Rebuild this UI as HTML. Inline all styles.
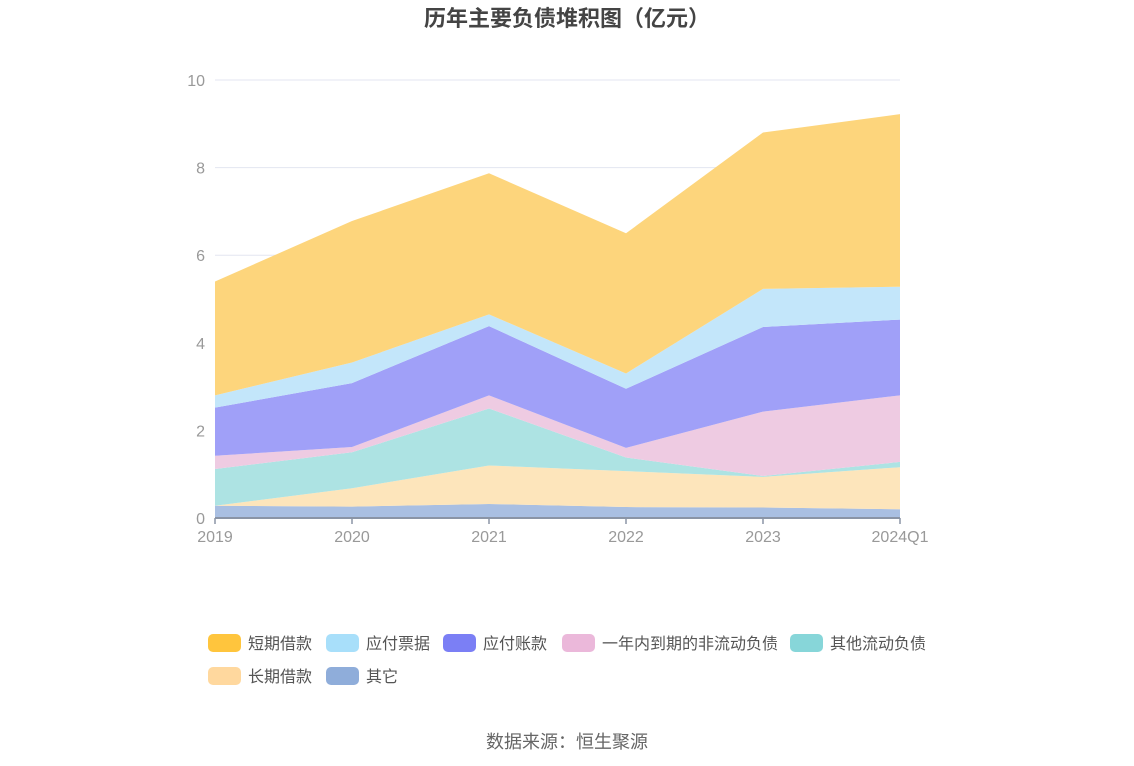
<!DOCTYPE html>
<html><head><meta charset="utf-8"><style>
body{margin:0;background:#fff;font-family:"Liberation Sans","Noto Sans CJK SC",sans-serif;}
#wrap{position:relative;width:1134px;height:766px;overflow:hidden}
</style></head><body><div id="wrap">
<svg id="chart" width="1134" height="766"></svg>
</div>
<script>
const categories=["2019","2020","2021","2022","2023","2024Q1"];
const seriesNames=["其它","长期借款","其他流动负债","一年内到期的非流动负债","应付账款","应付票据","短期借款"];
const sOther=[0.28,0.26,0.32,0.25,0.24,0.2];
const sLongLoan=[0.0,0.42,0.88,0.82,0.7,0.96];
const sOtherCurrent=[0.84,0.82,1.3,0.31,0.02,0.12];
const sDueWithinYear=[0.3,0.12,0.3,0.22,1.47,1.52];
const sPayables=[1.1,1.46,1.58,1.35,1.93,1.73];
const sNotes=[0.28,0.47,0.27,0.35,0.87,0.75];
const sShortLoan=[2.6,3.23,3.22,3.2,3.57,3.94];
const yTicks=[0,2,4,6,8,10];
const seriesData=[sOther,sLongLoan,sOtherCurrent,sDueWithinYear,sPayables,sNotes,sShortLoan];
const fills=["#a9bfe2","#fde5bb","#ade3e3","#eecbe2","#a0a0f8","#c3e6fa","#fdd57c"];
const legendColors={"短期借款":"#ffc53d","应付票据":"#a8dffa","应付账款":"#7b7ff5","一年内到期的非流动负债":"#ebb8da","其他流动负债":"#87d6d9","长期借款":"#ffd89e","其它":"#8fadda"};
const NS="http://www.w3.org/2000/svg";
const svg=document.getElementById('chart');
const x0=215,x1=900,y0=518,y1=80,ymax=10;
const xs=i=>x0+(x1-x0)*i/(categories.length-1);
const ys=v=>y0-(y0-y1)*v/ymax;
function mk(t,a,p){const e=document.createElementNS(NS,t);for(const k in a)e.setAttribute(k,a[k]);(p||svg).appendChild(e);return e;}
// title
let t=mk('text',{x:567,y:26,'text-anchor':'middle','font-size':22,'font-weight':'bold',fill:'#444'});
t.textContent='历年主要负债堆积图（亿元）';
// grid & y labels
yTicks.forEach(v=>{
 const g=mk('line',{x1:x0,x2:x1,y1:ys(v),y2:ys(v),stroke:'#e3e6f0','stroke-width':1});
 
 const l=mk('text',{x:205,y:ys(v)+6,'text-anchor':'end','font-size':16,fill:'#999'});
 l.textContent=v;
});
// stacked areas
let base=categories.map(()=>0);
seriesData.forEach((s,k)=>{
 const top=base.map((b,i)=>b+s[i]);
 let d='M'+categories.map((c,i)=>xs(i)+','+ys(top[i])).join('L');
 for(let i=categories.length-1;i>=0;i--)d+='L'+xs(i)+','+ys(base[i]);
 const p=mk('path',{d:d+'Z',fill:fills[k],stroke:'none'});
 
 base=top;
});
// x axis
const ax=mk('line',{x1:x0,x2:x1,y1:y0,y2:y0,stroke:'#8a94a6','stroke-width':2});

categories.forEach((c,i)=>{
 const tk=mk('line',{x1:xs(i),x2:xs(i),y1:y0,y2:y0+6,stroke:'#8a94a6','stroke-width':1.5});
 
 const l=mk('text',{x:xs(i),y:542,'text-anchor':'middle','font-size':16,fill:'#999'});
 l.textContent=c;
});
// legend
const legend=[["短期借款",208,643],["应付票据",326,643],["应付账款",443,643],["一年内到期的非流动负债",562,643],["其他流动负债",790,643],["长期借款",208,676],["其它",326,676]];
legend.forEach(([n,x,y])=>{
 const g=mk('g',{});
 
 mk('rect',{x:x,y:y-9,width:33,height:18,rx:5,fill:legendColors[n]},g);
 const l=mk('text',{x:x+40,y:y+6,'font-size':16,fill:'#555'},g);l.textContent=n;
});
const src=mk('text',{x:567,y:748,'text-anchor':'middle','font-size':18,fill:'#666'});
src.textContent='数据来源：恒生聚源';
</script></body></html>
